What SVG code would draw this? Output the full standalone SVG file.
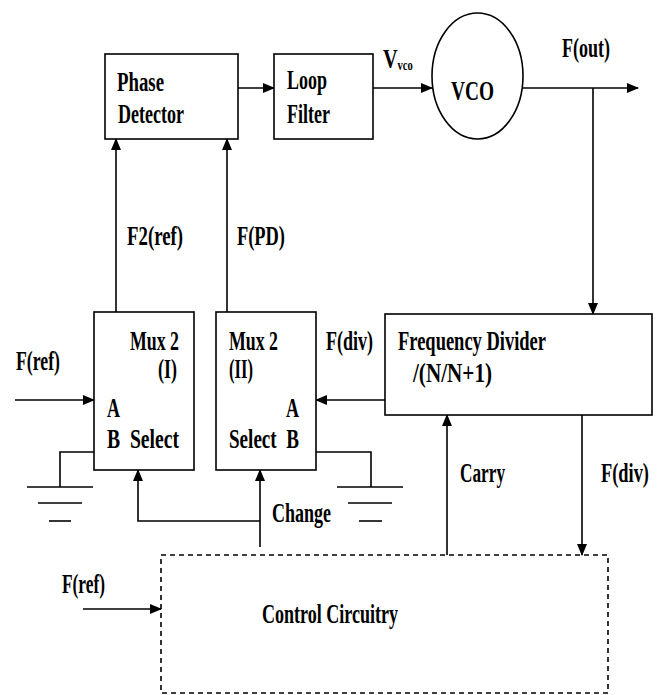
<svg xmlns="http://www.w3.org/2000/svg" width="659" height="695" viewBox="0 0 659 695">
<style>
text{font-family:"Liberation Serif","Times New Roman",serif;font-size:27px;font-weight:bold;fill:#000}
.box{fill:#fff;stroke:#000;stroke-width:1.6}
.dash{fill:none;stroke:#000;stroke-width:1.6;stroke-dasharray:5 4}
.ln{fill:none;stroke:#000;stroke-width:1.6}
.arr{fill:none;stroke:#000;stroke-width:1.6;marker-end:url(#ah)}
</style>
<defs>
<marker id="ah" markerUnits="userSpaceOnUse" markerWidth="12" markerHeight="10" refX="11" refY="5" orient="auto">
<path d="M0,0 L12,5 L0,10 z" fill="#000"/>
</marker>
</defs>
<rect width="659" height="695" fill="#fff"/>
<g id="connectors">
<line class="arr" x1="238" y1="88" x2="274" y2="88"/>
<line class="arr" x1="373" y1="88" x2="432" y2="88"/>
<line class="arr" x1="523" y1="88" x2="638" y2="88"/>
<line class="arr" x1="593" y1="88" x2="593" y2="314"/>
<line class="arr" x1="385" y1="400" x2="316" y2="400"/>
<line class="arr" x1="116" y1="312" x2="116" y2="139"/>
<line class="arr" x1="227" y1="312" x2="227" y2="139"/>
<line class="arr" x1="15" y1="400" x2="94" y2="400"/>
<polyline class="ln" points="94,452 60,452 60,487"/>
<line class="ln" x1="27" y1="487" x2="93" y2="487"/>
<line class="ln" x1="38" y1="503" x2="82" y2="503"/>
<line class="ln" x1="49" y1="521" x2="71" y2="521"/>
<polyline class="ln" points="316,452 371,452 371,487"/>
<line class="ln" x1="337" y1="487" x2="403" y2="487"/>
<line class="ln" x1="348" y1="503" x2="392" y2="503"/>
<line class="ln" x1="359" y1="521" x2="382" y2="521"/>
<path class="arr" d="M260,547 L260,470"/>
<path class="arr" d="M260,521 L138,521 L138,470"/>
<line class="arr" x1="447" y1="555" x2="447" y2="415"/>
<line class="arr" x1="582" y1="415" x2="582" y2="555"/>
<line class="arr" x1="83" y1="609" x2="161" y2="609"/>
</g>
<g id="phase-detector">
<rect class="box" x="105" y="54" width="133" height="85"/>
<text x="117" y="91" textLength="47" lengthAdjust="spacingAndGlyphs">Phase</text>
<text x="118" y="123" textLength="66" lengthAdjust="spacingAndGlyphs">Detector</text>
</g>
<g id="loop-filter">
<rect class="box" x="274" y="54" width="99" height="85"/>
<text x="287" y="89" textLength="40" lengthAdjust="spacingAndGlyphs">Loop</text>
<text x="287" y="123" textLength="43" lengthAdjust="spacingAndGlyphs">Filter</text>
</g>
<g id="vco">
<ellipse class="box" cx="477.5" cy="76" rx="45.5" ry="63"/>
<text x="451" y="100" textLength="43" lengthAdjust="spacingAndGlyphs">VCO</text>
</g>
<g id="mux1">
<rect class="box" x="94" y="312" width="100" height="158"/>
<text x="130" y="350" textLength="49" lengthAdjust="spacingAndGlyphs">Mux 2</text>
<text x="158" y="378" textLength="19" lengthAdjust="spacingAndGlyphs">(I)</text>
<text x="107" y="417" textLength="13" lengthAdjust="spacingAndGlyphs">A</text>
<text x="107" y="448" textLength="72" lengthAdjust="spacingAndGlyphs" xml:space="preserve">B  Select</text>
</g>
<g id="mux2">
<rect class="box" x="216" y="312" width="100" height="158"/>
<text x="229" y="350" textLength="49" lengthAdjust="spacingAndGlyphs">Mux 2</text>
<text x="229" y="378" textLength="24" lengthAdjust="spacingAndGlyphs">(II)</text>
<text x="286" y="417" textLength="13" lengthAdjust="spacingAndGlyphs">A</text>
<text x="229" y="448" textLength="70" lengthAdjust="spacingAndGlyphs" xml:space="preserve">Select  B</text>
</g>
<g id="frequency-divider">
<rect class="box" x="385" y="314" width="267" height="101"/>
<text x="398" y="350" textLength="148" lengthAdjust="spacingAndGlyphs">Frequency Divider</text>
<text x="413" y="382" textLength="79" lengthAdjust="spacingAndGlyphs">/(N/N+1)</text>
</g>
<g id="control-circuitry">
<rect class="dash" x="161" y="555" width="447" height="138"/>
<text x="262" y="623" textLength="136" lengthAdjust="spacingAndGlyphs">Control Circuitry</text>
</g>
<g id="labels">
<text transform="translate(383,68) scale(0.75,1)">V<tspan font-size="14" dy="2">vco</tspan></text>
<text x="562" y="57" textLength="48" lengthAdjust="spacingAndGlyphs">F(out)</text>
<text x="127" y="245" textLength="56" lengthAdjust="spacingAndGlyphs">F2(ref)</text>
<text x="237" y="245" textLength="48" lengthAdjust="spacingAndGlyphs">F(PD)</text>
<text x="16" y="370" textLength="44" lengthAdjust="spacingAndGlyphs">F(ref)</text>
<text x="326" y="350" textLength="47" lengthAdjust="spacingAndGlyphs">F(div)</text>
<text x="272" y="522" textLength="59" lengthAdjust="spacingAndGlyphs">Change</text>
<text x="460" y="482" textLength="45" lengthAdjust="spacingAndGlyphs">Carry</text>
<text transform="translate(601,482) scale(0.68,1)">F(div)</text>
<text x="62" y="593" textLength="43" lengthAdjust="spacingAndGlyphs">F(ref)</text>
</g>
</svg>
